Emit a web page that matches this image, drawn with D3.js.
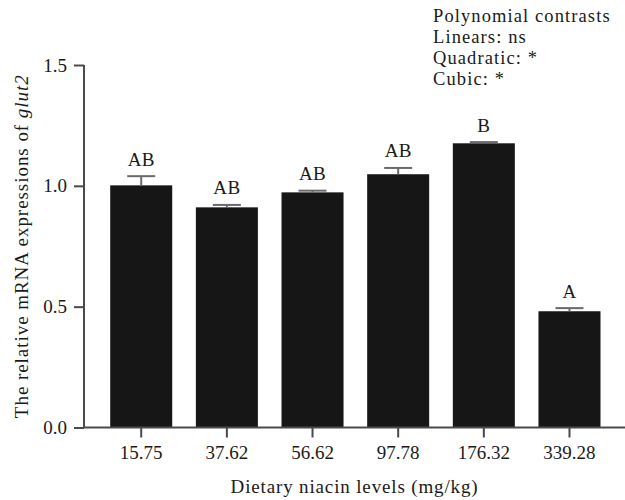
<!DOCTYPE html>
<html>
<head>
<meta charset="utf-8">
<script src="https://cdn.jsdelivr.net/npm/d3@7"></script>
<style>
html,body{margin:0;padding:0;background:#fff;}
svg{display:block;}
text{font-family:"Liberation Serif","Times New Roman",serif;fill:#1a1a1a;}
</style>
</head>
<body>
<svg id="chart" width="625" height="500"></svg>
<script>
const categories = ["15.75","37.62","56.62","97.78","176.32","339.28"];
const means = [1.002, 0.911, 0.973, 1.048, 1.176, 0.481];
const errors = [0.038, 0.010, 0.007, 0.026, 0.005, 0.013];
const letters = ["AB","AB","AB","AB","B","A"];
const yTicks = [0.0, 0.5, 1.0, 1.5];
const legendLines = ["Polynomial contrasts","Linears: ns","Quadratic: *","Cubic: *"];

const svg = d3.select("#chart");
const x0 = 84, x1 = 626.7, yTop = 65, yBottom = 427.5;

const x = d3.scaleBand().domain(categories).range([x0, x1])
  .paddingInner(0.276).paddingOuter(0.306);
const y = d3.scaleLinear().domain([0, 1.5]).range([yBottom, yTop]);

const axisColor = "#4a4a4a";

// bars
svg.append("g").selectAll("rect").data(categories).join("rect")
  .attr("x", d => x(d))
  .attr("y", (d,i) => y(means[i]))
  .attr("width", x.bandwidth())
  .attr("height", (d,i) => y(0) - y(means[i]))
  .attr("fill", "#161616");

// error bars
const eb = svg.append("g").attr("stroke", "#6a6a6a").attr("stroke-width", 2);
categories.forEach((c,i) => {
  const cx = x(c) + x.bandwidth()/2;
  eb.append("line").attr("x1", cx).attr("x2", cx)
    .attr("y1", y(means[i])).attr("y2", y(means[i]+errors[i]));
  eb.append("line").attr("x1", cx-14).attr("x2", cx+14)
    .attr("y1", y(means[i]+errors[i])).attr("y2", y(means[i]+errors[i]));
});

// letters
svg.append("g").selectAll("text").data(categories).join("text")
  .attr("x", d => x(d) + x.bandwidth()/2)
  .attr("y", (d,i) => y(means[i]+errors[i]) - 10.5)
  .attr("text-anchor", "middle")
  .style("font-size", "19px").style("letter-spacing","0.3px")
  .text((d,i) => letters[i]);

// y axis
const yAxis = svg.append("g").attr("transform", `translate(${x0},0)`)
  .call(d3.axisLeft(y).tickValues(yTicks).tickFormat(d3.format(".1f")).tickSize(10).tickPadding(7).tickSizeOuter(0));
yAxis.select(".domain").attr("stroke", axisColor).attr("stroke-width", 2)
  .attr("d", `M0,${yTop}V${yBottom}`);
yAxis.selectAll(".tick line").attr("stroke", axisColor).attr("stroke-width", 2);
yAxis.selectAll(".tick text").style("font-size", "19px").style("font-family", '"Liberation Serif",serif').attr("fill", "#1a1a1a");

// x axis
const xAxis = svg.append("g").attr("transform", `translate(0,${yBottom})`)
  .call(d3.axisBottom(x).tickSize(10).tickPadding(8.3).tickSizeOuter(0));
xAxis.select(".domain").attr("stroke", axisColor).attr("stroke-width", 2)
  .attr("d", `M${x0-1},0H625`);
xAxis.selectAll(".tick line").attr("stroke", axisColor).attr("stroke-width", 2);
xAxis.selectAll(".tick text").style("font-size", "19px").style("font-family", '"Liberation Serif",serif').attr("fill", "#1a1a1a");

// x title
svg.append("text").attr("x", (x0+625)/2).attr("y", 493)
  .attr("text-anchor", "middle").style("font-size", "19px").style("letter-spacing","0.85px")
  .text("Dietary niacin levels (mg/kg)");

// y title
const yt = svg.append("text")
  .attr("transform", `translate(28,${(yTop+yBottom)/2}) rotate(-90)`)
  .attr("text-anchor", "middle").style("font-size", "19px").style("letter-spacing","0.95px");
yt.append("tspan").text("The relative mRNA expressions of ");
yt.append("tspan").style("font-style","italic").text("glut2");

// legend
const legendY = [22, 43, 64, 85];
svg.append("g").selectAll("text").data(legendLines).join("text")
  .attr("x", 433).attr("y", (d,i) => legendY[i])
  .style("font-size", "18.5px").style("letter-spacing","1.1px")
  .text(d => d);
</script>
</body>
</html>
